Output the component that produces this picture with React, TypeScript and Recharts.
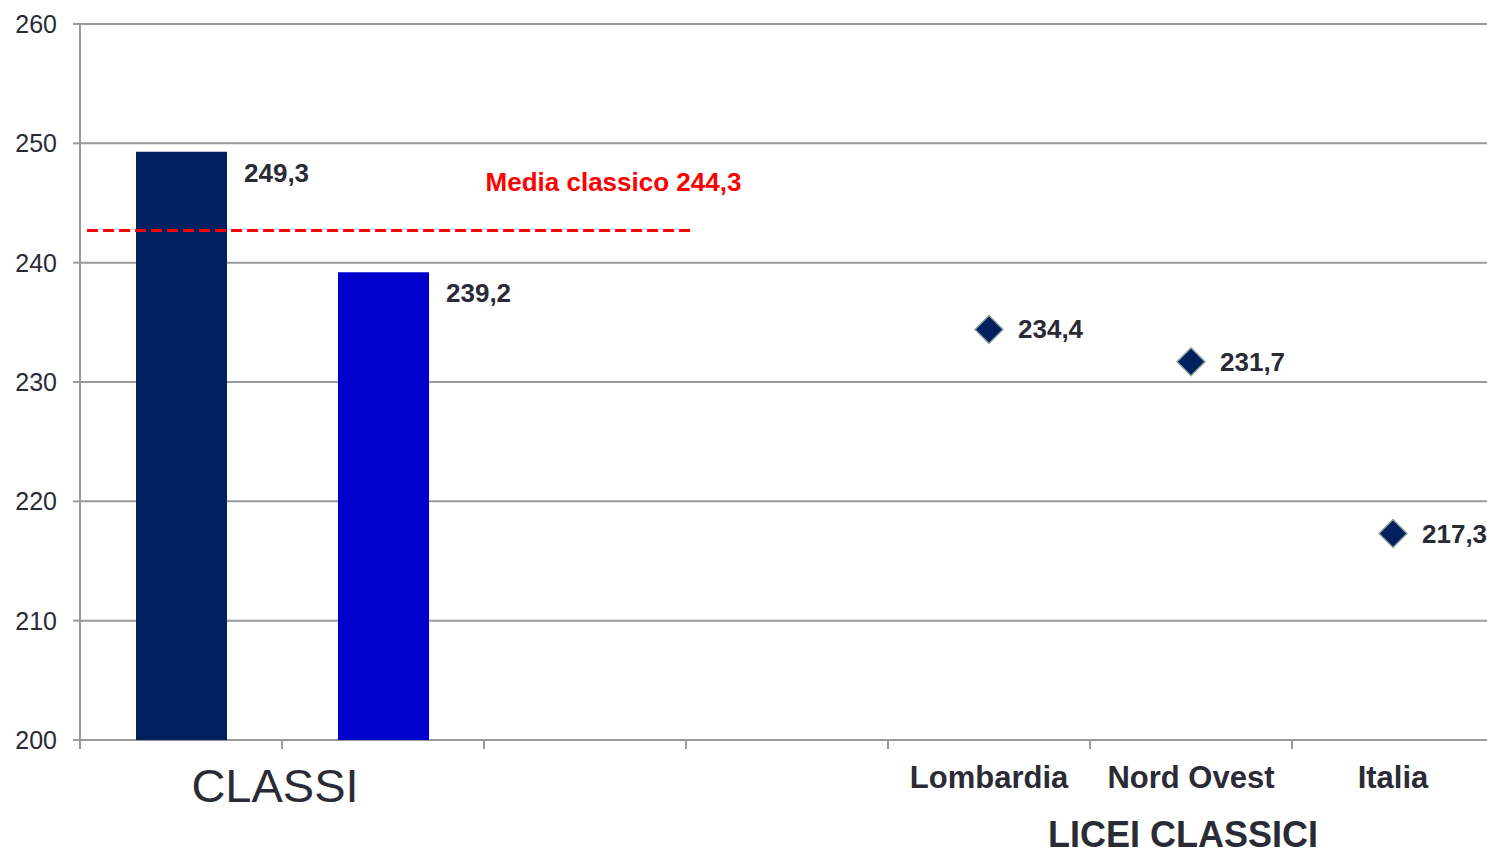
import {
  Bar,
  CartesianGrid,
  Cell,
  ComposedChart,
  LabelList,
  Line,
  ReferenceDot,
  ReferenceLine,
  XAxis,
  YAxis,
} from "recharts";

const categories = ["Classe A", "Classe B", "-", "--", "Lombardia", "Nord Ovest", "Italia"];
const tickLabels = ["", "", "", "", "Lombardia", "Nord Ovest", "Italia"];
const classValues = [249.3, 239.2, null, null, null, null, null];
const classColors = ["#00205F", "#0000CC"];
const territoryValues = [null, null, null, null, 234.4, 231.7, 217.3];
const yTicks = [200, 210, 220, 230, 240, 250, 260];
const boundaryTicks = [0, 1, 2, 3, 4, 5, 6, 7];
const mediaValue = 244.3;
const mediaLineLevel = 242.7; // where the dashed line sits in the picture
const groupClassi = "CLASSI";
const groupLicei = "LICEI CLASSICI";

const FONT = '"Liberation Sans", Arial, sans-serif';
const TEXT = "#2B2B36";

const fmt = (v: number) => v.toFixed(1).replace(".", ",");

// pos = middle of each category band on a 0..7 numeric scale
const data = categories.map((c, i) => ({
  cat: c,
  pos: i + 0.5,
  classe: classValues[i],
  terr: territoryValues[i],
}));

function CategoryTick(props: any) {
  const { x, y, index } = props;
  return (
    <g>
      {tickLabels[index] ? (
        <text x={x} y={y + 38} textAnchor="middle" fontSize={31} fontWeight="bold" fill={TEXT} fontFamily={FONT}>
          {tickLabels[index]}
        </text>
      ) : null}
      {index === 0 ? (
        <text x={x + 94} y={y + 52} textAnchor="middle" fontSize={47} fill={TEXT} fontFamily={FONT}>
          {groupClassi}
        </text>
      ) : null}
      {index === 5 ? (
        <text x={x - 8} y={y + 97} textAnchor="middle" fontSize={36} fontWeight="bold" fill={TEXT} fontFamily={FONT}>
          {groupLicei}
        </text>
      ) : null}
    </g>
  );
}

function Diamond(props: any) {
  const { cx, cy, payload } = props;
  if (payload == null || payload.terr == null || cy == null) return <g key={props.index} />;
  const r = 14;
  return (
    <path
      key={props.index}
      d={`M${cx},${cy - r}L${cx + r},${cy}L${cx},${cy + r}L${cx - r},${cy}Z`}
      fill="#00205F"
      stroke="#8FA39A"
      strokeWidth={1.5}
    />
  );
}

export default function App() {
  return (
    <div style={{ position: "absolute", left: 0, top: 0, width: 1487, height: 855, overflow: "hidden", background: "#fff" }}>
      <ComposedChart width={1502} height={855} data={data} margin={{ top: 24, right: 8, left: 0, bottom: 55 }}>
        <CartesianGrid vertical={false} stroke="#9A9A9A" strokeWidth={2} />
        <XAxis
          dataKey="cat"
          height={1}
          axisLine={false}
          tickLine={false}
          interval={0}
          tickSize={8}
          tick={<CategoryTick />}
        />
        <XAxis
          xAxisId="num"
          dataKey="pos"
          type="number"
          domain={[0, 7]}
          ticks={boundaryTicks}
          interval={0}
          height={59}
          tickSize={8}
          tickFormatter={() => ""}
          axisLine={false}
          tickLine={{ stroke: "#9A9A9A", strokeWidth: 2 }}
          allowDataOverflow
        />
        <YAxis
          domain={[200, 260]}
          ticks={yTicks}
          width={80}
          tickSize={7}
          tickMargin={16}
          stroke="#9A9A9A"
          strokeWidth={2}
          tick={{ fill: TEXT, fontSize: 25, fontFamily: FONT }}
          allowDataOverflow
        />
        <Bar dataKey="classe" barSize={91} isAnimationActive={false}>
          {data.map((_, i) => (
            <Cell key={i} fill={classColors[i % classColors.length]} />
          ))}
          <LabelList
            dataKey="classe"
            content={(p: any) =>
              p.value == null ? null : (
                <text x={p.x + p.width + 17} y={p.y + 30} fontSize={26} fontWeight="bold" fill={TEXT} fontFamily={FONT}>
                  {fmt(p.value)}
                </text>
              )
            }
          />
        </Bar>
        <Line
          dataKey="terr"
          stroke="none"
          strokeWidth={0}
          dot={Diamond}
          activeDot={false}
          isAnimationActive={false}
        >
          <LabelList
            dataKey="terr"
            content={(p: any) =>
              p.value == null ? null : (
                <text x={p.x + 29} y={p.y + 9} fontSize={26} fontWeight="bold" fill={TEXT} fontFamily={FONT}>
                  {fmt(p.value)}
                </text>
              )
            }
          />
        </Line>
        <ReferenceLine
          xAxisId="num"
          segment={[
            { x: 0.035, y: mediaLineLevel },
            { x: 3.02, y: mediaLineLevel },
          ]}
          stroke="#FF0000"
          strokeWidth={3}
          strokeDasharray="11 5"
        />
        <ReferenceDot
          xAxisId="num"
          x={2.641}
          y={246}
          r={0}
          shape={(p: any) => (
            <text x={p.cx} y={p.cy} textAnchor="middle" fontSize={26} fontWeight="bold" fill="#FF0000" fontFamily={FONT}>
              {`Media classico ${fmt(mediaValue)}`}
            </text>
          )}
        />
      </ComposedChart>
    </div>
  );
}
